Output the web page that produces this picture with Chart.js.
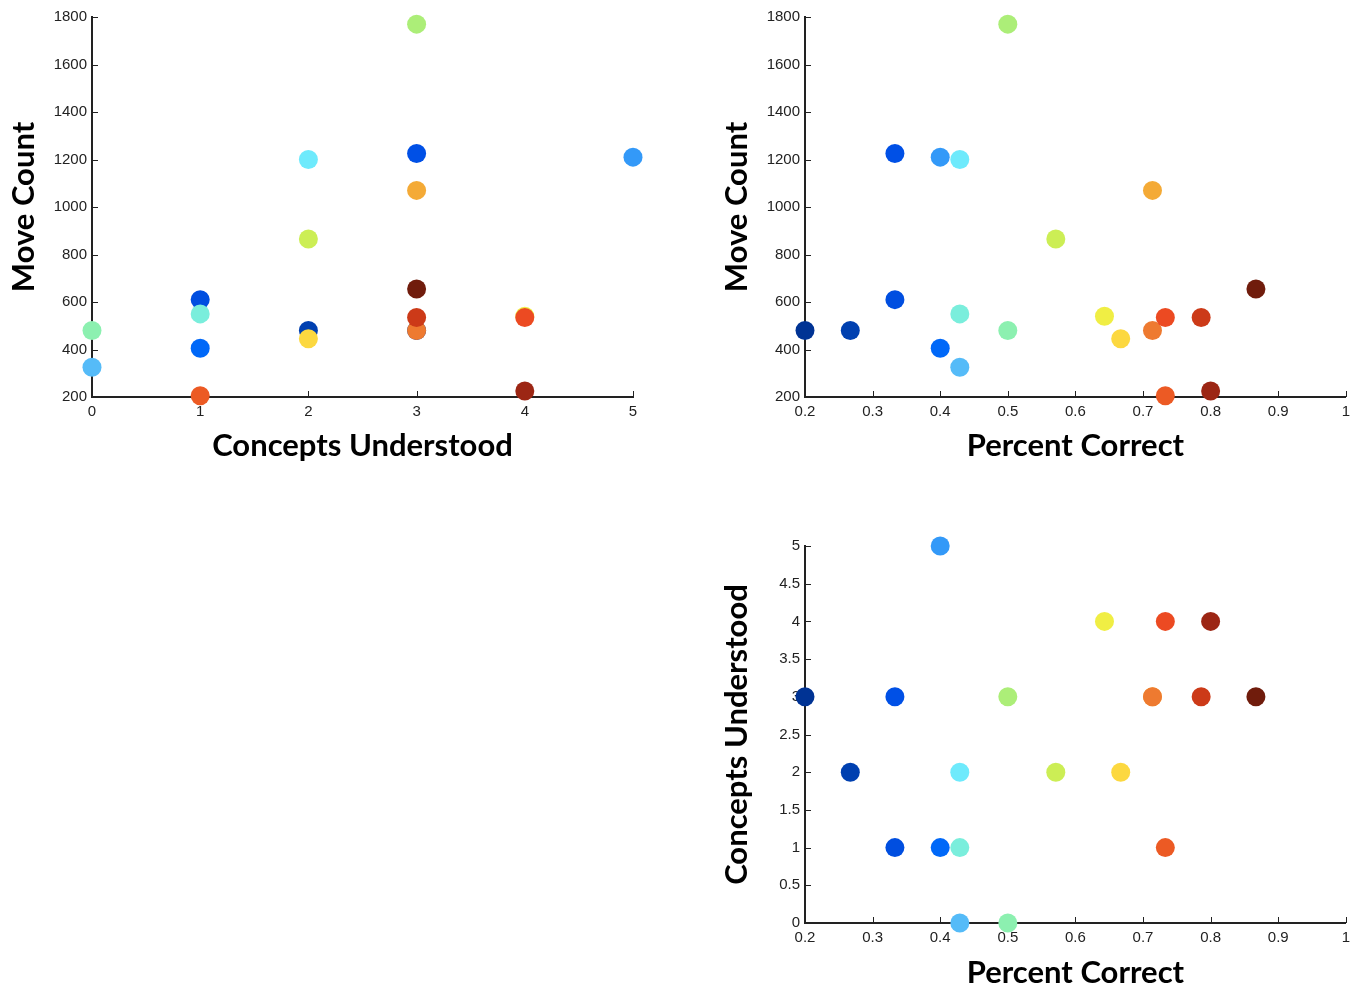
<!DOCTYPE html>
<html>
<head>
<meta charset="utf-8">
<script src="https://cdn.jsdelivr.net/npm/chart.js@4.4.1/dist/chart.umd.min.js"></script>
<style>
  html, body { margin: 0; padding: 0; background: #fff; overflow: hidden; }
  .box { position: absolute; }
</style>
</head>
<body>
<div class="box" style="left:0px; top:0px; width:660px; height:470px;"><canvas id="movesVsConcepts"></canvas></div>
<div class="box" style="left:700px; top:0px; width:656px; height:470px;"><canvas id="movesVsPercent"></canvas></div>
<div class="box" style="left:700px; top:500px; width:656px; height:500px;"><canvas id="conceptsVsPercent"></canvas></div>
<script>
// one entry per participant, sorted by percent correct
const percentCorrect = [0.2, 0.267, 0.333, 0.333, 0.4, 0.4, 0.429, 0.429, 0.429, 0.5, 0.5,
  0.571, 0.643, 0.667, 0.714, 0.714, 0.733, 0.733, 0.786, 0.8, 0.867]
const conceptsUnderstood = [3, 2, 3, 1, 1, 5, 0, 2, 1, 0, 3, 2, 4, 2, 3, 3, 1, 4, 3, 4, 3]
const moveCount = [480, 480, 1225, 610, 405, 1210, 325, 1200, 550, 480, 1770,
  865, 540, 445, 1070, 480, 205, 535, 535, 225, 655]
const pointColors = ['#003394', '#0040b0', '#0050e6', '#004ee0', '#0068f8', '#3399f8',
  '#55bbf8', '#6eeafc', '#7aeedc', '#8cf0b0', '#acee78', '#ccee55', '#f0ee44', '#fcd840',
  '#f4aa36', '#ee7a30', '#ec5a24', '#ec4a22', '#cc3a18', '#9c2614', '#701c0c']

// tick values
const conceptTicks = [0, 1, 2, 3, 4, 5]
const conceptTicksHalf = [0, 0.5, 1, 1.5, 2, 2.5, 3, 3.5, 4, 4.5, 5]
const percentTicks = [0.2, 0.3, 0.4, 0.5, 0.6, 0.7, 0.8, 0.9, 1]
const moveTicks = [200, 400, 600, 800, 1000, 1200, 1400, 1600, 1800]

const tickFont = { family: 'Liberation Sans', size: 15 }
const titleFont = { family: 'Lato', size: 31, weight: 'bold', lineHeight: 1.2 }

// matlab style ticks pointing into the plot
const innerTicks = {
  id: 'innerTicks',
  beforeDatasetsDraw(chart) {
    const ctx = chart.ctx
    const { x, y } = chart.scales
    ctx.save()
    ctx.strokeStyle = '#222'
    ctx.lineWidth = 1
    x.ticks.forEach((t) => {
      const px = Math.round(x.getPixelForValue(t.value)) + 0.5
      ctx.beginPath()
      ctx.moveTo(px, y.bottom)
      ctx.lineTo(px, y.bottom - 6)
      ctx.stroke()
    })
    y.ticks.forEach((t) => {
      const py = Math.round(y.getPixelForValue(t.value)) + 0.5
      ctx.beginPath()
      ctx.moveTo(x.left, py)
      ctx.lineTo(x.left + 6, py)
      ctx.stroke()
    })
    ctx.restore()
  },
}

const axis = (min, max, ticks, title, size, titlePad, horizontal) => ({
  type: 'linear',
  min: min,
  max: max,
  afterBuildTicks: (scale) => {
    scale.ticks = ticks.map((v) => ({ value: v }))
  },
  afterFit: (scale) => {
    if (horizontal) scale.height = size
    else scale.width = size
  },
  grid: { display: true, drawOnChartArea: false, drawTicks: false },
  border: { display: true, color: '#222', width: 2 },
  ticks: {
    font: tickFont,
    color: '#222',
    padding: horizontal ? 6 : 5,
    maxRotation: 0,
    autoSkip: false,
    callback: (v) => String(Math.round(v * 10) / 10),
  },
  title: {
    display: true,
    text: title,
    color: '#000',
    font: titleFont,
    padding: horizontal ? { bottom: titlePad, top: 0 } : { top: titlePad, bottom: 0 },
  },
})

const makeScatter = (id, xs, ys, xScale, yScale, pad) => {
  const canvas = document.getElementById(id)
  return new Chart(canvas, {
    type: 'scatter',
    data: {
      datasets: [
        {
          data: xs.map((v, i) => ({ x: v, y: ys[i] })),
          backgroundColor: pointColors,
          borderWidth: 0,
          pointRadius: 9.5,
          pointHoverRadius: 9.5,
          clip: false,
        },
      ],
    },
    options: {
      responsive: true,
      maintainAspectRatio: false,
      animation: false,
      layout: { padding: pad },
      scales: { x: xScale, y: yScale },
      plugins: { legend: { display: false }, tooltip: { enabled: false } },
    },
    plugins: [innerTicks],
  })
}

makeScatter('movesVsConcepts', conceptsUnderstood, moveCount,
  axis(0, 5, conceptTicks, 'Concepts Understood', 73, 5, true),
  axis(200, 1800, moveTicks, 'Move Count', 92, 5, false),
  { top: 17, right: 27, left: 0, bottom: 0 })

makeScatter('movesVsPercent', percentCorrect, moveCount,
  axis(0.2, 1, percentTicks, 'Percent Correct', 73, 5, true),
  axis(200, 1800, moveTicks, 'Move Count', 105, 18, false),
  { top: 17, right: 10, left: 0, bottom: 0 })

makeScatter('conceptsVsPercent', percentCorrect, conceptsUnderstood,
  axis(0.2, 1, percentTicks, 'Percent Correct', 77, 8, true),
  axis(0, 5, conceptTicksHalf, 'Concepts Understood', 105, 18, false),
  { top: 46, right: 10, left: 0, bottom: 0 })
</script>
</body>
</html>
